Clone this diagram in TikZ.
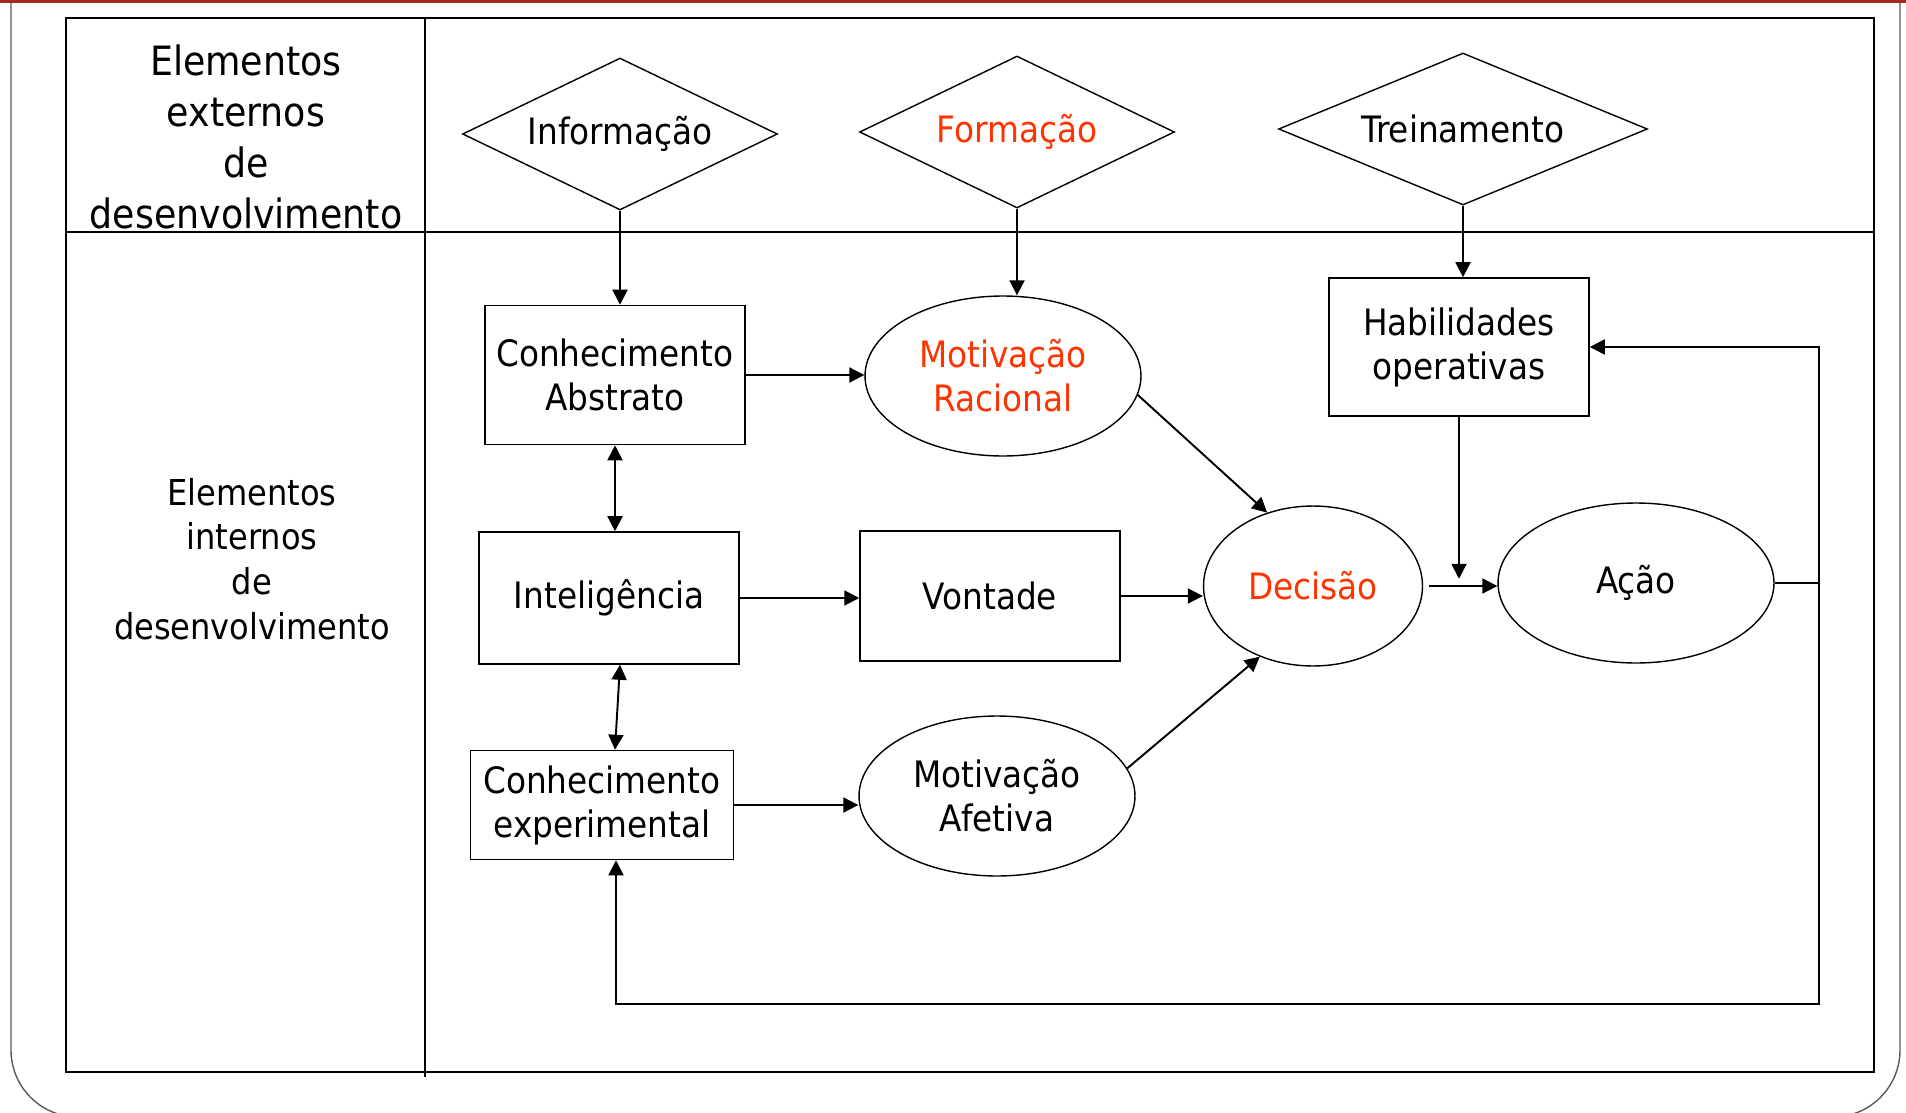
\documentclass[tikz,border=0pt]{standalone}
\usepackage{fontspec}
\setmainfont{DejaVu Sans Condensed}
\usetikzlibrary{shapes.geometric,arrows.meta}
\definecolor{destaque}{HTML}{FF3300}
\definecolor{faixa}{HTML}{A52A1E}
\begin{document}
\begin{tikzpicture}[x=0.02cm,y=-0.02cm,
		every node/.style={align=center, font=\fontsize{20.7}{25}\selectfont},
		caixa/.style={draw, line width=0.9pt, rectangle, inner sep=0,
			minimum width=5.2cm, minimum height=2.78cm},
		elipse/.style={draw, line width=0.8pt, ellipse, inner sep=0,
			minimum width=5.52cm, minimum height=3.2cm},
		losango/.style={draw, line width=0.8pt, diamond, aspect=2.07, inner sep=0,
			minimum width=6.3cm, minimum height=3.04cm},
		seta/.style={-{Triangle[length=0.3cm,width=0.3cm]}, line width=1.1pt},
		duplaseta/.style={{Triangle[length=0.3cm,width=0.3cm]}-{Triangle[length=0.3cm,width=0.3cm]}, line width=1.1pt}]
	\useasboundingbox (0,0) rectangle (1906,1112);
	% moldura do slide
	\fill[faixa] (0,0) rectangle (1906,3);
	\draw[gray!70!black, line width=0.8pt, rounded corners=1.34cm]
		(11,3) -- (11,1117) -- (1900,1117) -- (1900,3);
	% tabela
	\draw[line width=0.9pt] (66,18) rectangle (1874,1072);
	\draw[line width=0.9pt] (425,18) -- (425,1077);
	\draw[line width=0.9pt] (66,232) -- (1874,232);
	\node[font=\fontsize{23}{29}\selectfont] (externos) at (246,137)
		{Elementos\\externos\\de\\desenvolvimento};
	\node[font=\fontsize{20.3}{25.5}\selectfont] (internos) at (252,559)
		{Elementos\\internos\\de\\desenvolvimento};
	% elementos externos
	\node[losango] (inf) at (620,134) {Informação};
	\node[losango, text=destaque] (form) at (1017,132) {Formação};
	\node[losango, minimum width=7.38cm] (trei) at (1463,129) {Treinamento};
	% elementos internos
	\node[caixa] (abs) at (615,375) {Conhecimento\\Abstrato};
	\node[caixa, minimum height=2.64cm] (intel) at (609,598) {Inteligência};
	\node[caixa, minimum height=2.6cm] (vont) at (990,596) {Vontade};
	\node[caixa, minimum width=5.26cm, minimum height=2.18cm] (exp) at (602,805)
		{Conhecimento\\experimental};
	\node[caixa, minimum height=2.76cm] (hab) at (1459,347) {Habilidades\\operativas};
	\node[elipse, text=destaque] (racio) at (1003,376) {Motivação\\Racional};
	\node[elipse, text=destaque, minimum width=4.38cm] (dec) at (1313,586) {Decisão};
	\node[elipse] (acao) at (1636,583) {Ação};
	\node[elipse] (afet) at (997,796) {Motivação\\Afetiva};
	\coordinate (dirR) at (1819,1004);
	\coordinate (dirL) at (616,1004);
	% setas
	\draw[seta] (inf.south) -- (inf.south |- abs.north);
	\draw[seta] (form.south) -- (form.south |- racio.north);
	\draw[seta] (trei.south) -- (trei.south |- hab.north);
	\draw[seta] (abs.east) -- (abs.east -| racio.west);
	\draw[duplaseta] (abs.south) -- (abs.south |- intel.north);
	\draw[seta] (intel.east) -- (intel.east -| vont.west);
	\draw[duplaseta] ([xshift=0.22cm]intel.south) -- ([xshift=0.26cm]exp.north);
	\draw[seta] (exp.east) -- (exp.east -| afet.west);
	\draw[seta] (vont.east) -- (vont.east -| dec.west);
	\draw[seta] (racio.-8) -- (dec.122);
	\draw[seta] (afet.12) -- (dec.233);
	\draw[seta, shorten <=0.12cm] (dec.east) -- (dec.east -| acao.west);
	\draw[seta] (hab.south) -- ++(0,162);
	\draw[seta] (acao.east) -| (dirR |- hab.east) -- (hab.east);
	\draw[seta] (acao.east) -| (dirR) -- (dirL) -- (dirL |- exp.south);
\end{tikzpicture}
\end{document}
